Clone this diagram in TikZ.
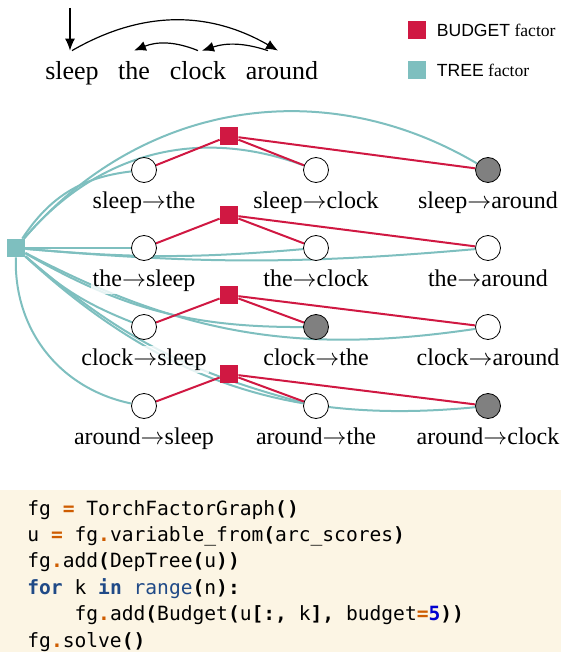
\documentclass[tikz,border=0pt]{standalone}
\usepackage{fontspec}
\setmainfont{Liberation Serif}
\setsansfont{Liberation Sans}
\setmonofont{DejaVu Sans Mono}
\usetikzlibrary{positioning}
\usetikzlibrary{arrows.meta}

\definecolor{budgetred}{RGB}{208,24,66}
\definecolor{treeteal}{RGB}{126,191,191}
\definecolor{codebg}{RGB}{252,245,228}
\definecolor{codeop}{RGB}{206,92,0}
\definecolor{codekw}{RGB}{32,74,135}
\definecolor{codenum}{RGB}{0,0,207}

\newcommand{\cop}[1]{\textcolor{codeop}{\textbf{#1}}}
\newcommand{\ckw}[1]{\textcolor{codekw}{\textbf{#1}}}
\newcommand{\cbi}[1]{\textcolor{codekw}{#1}}
\newcommand{\cnum}[1]{\textcolor{codenum}{\textbf{#1}}}
\newcommand{\cpu}[1]{\textbf{#1}}

\pgfdeclarelayer{background}
\pgfsetlayers{background,main}

\tikzset{
  word/.style={font=\fontsize{13}{15}\selectfont, anchor=base, text height=9pt, inner sep=5.5pt},
  deparc/.style={semithick, -{Latex[length=6pt,width=5pt]}},
  var/.style={circle, draw, thin, fill=white, minimum size=12.5pt, inner sep=0pt},
  chosen/.style={var, fill=gray},
  budget/.style={rectangle, fill=budgetred, minimum size=9pt, inner sep=0pt},
  tree/.style={rectangle, fill=treeteal, minimum size=9pt, inner sep=0pt},
  lbl/.style={font=\fontsize{12}{14}\selectfont, fill=white, fill opacity=0.8, text opacity=1,
    inner sep=1pt, text height=8.5pt, text depth=2.6pt},
  budgetline/.style={budgetred, line width=1pt},
  treeline/.style={treeteal, line width=1pt},
  legtext/.style={font=\fontsize{8.8}{10}\selectfont, inner sep=1pt, anchor=west},
  code/.style={font=\fontsize{9.8}{12}\ttfamily, anchor=base west, inner sep=0pt},
}

\begin{document}
\begin{tikzpicture}[x=0.5pt,y=0.5pt]
\useasboundingbox (0,0) rectangle (561,-652);

% sentence and its tree
\node[word] (w-sleep) at (72,-80) {sleep};
\node[word] (w-the) at (134,-80) {the};
\node[word] (w-clock) at (198,-80) {clock};
\node[word] (w-around) at (282,-80) {around};
\coordinate (root) at (70,-8);
\draw[deparc] (root) -- ([xshift=-1pt]w-sleep.north);
\draw[deparc] (w-sleep.north) to[bend left=30] ([xshift=-2pt]w-around.north);
\draw[deparc] (w-clock.north) to[bend right=22] (w-the.north);
\draw[deparc] ([xshift=-7pt]w-around.north) to[bend right=18] ([xshift=2pt]w-clock.north);

% legend
\node[budget] (leg-budget) at (417,-30) {};
\node[legtext, right=4pt of leg-budget] (leg-budget-t) {\textsf{BUDGET} factor};
\node[tree] (leg-tree) at (417,-70) {};
\node[legtext, right=4pt of leg-tree] (leg-tree-t) {\textsf{TREE} factor};

% factor graph
\node[tree] (tree) at (16,-248) {};
\node[budget] (budget1) at (229,-136) {};
\node[budget] (budget2) at (229,-215) {};
\node[budget] (budget3) at (229,-295) {};
\node[budget] (budget4) at (229,-374) {};

\node[var] (sleep-the) at (144,-170) {};
\node[var] (sleep-clock) at (316,-170) {};
\node[chosen] (sleep-around) at (488,-170) {};
\node[var] (the-sleep) at (144,-248) {};
\node[var] (the-clock) at (316,-248) {};
\node[var] (the-around) at (488,-248) {};
\node[var] (clock-sleep) at (144,-327) {};
\node[chosen] (clock-the) at (316,-327) {};
\node[var] (clock-around) at (488,-327) {};
\node[var] (around-sleep) at (144,-406) {};
\node[var] (around-the) at (316,-406) {};
\node[chosen] (around-clock) at (488,-406) {};

\begin{pgfonlayer}{background}
\draw[treeline] (tree) to[bend left=25] (sleep-the);
\draw[treeline] (tree) to[bend left=35] (sleep-clock);
\draw[treeline] (tree) to[bend left=40] (sleep-around);
\draw[treeline] (tree) to (the-sleep);
\draw[treeline] (tree) to[bend right=5] (the-clock);
\draw[treeline] (tree) to[bend right=5] (the-around);
\draw[treeline] (tree) to[bend right=10] (clock-sleep);
\draw[treeline] (tree) to[bend right=15] (clock-the);
\draw[treeline] (tree) to[bend right=18] (clock-around);
\draw[treeline] (tree) to[bend right=40] (around-sleep);
\draw[treeline] (tree) to[bend right=13] (around-the);
\draw[treeline] (tree) to[bend right=24] (around-clock);

\draw[budgetline] (budget1) -- (sleep-the);
\draw[budgetline] (budget1) -- (sleep-clock);
\draw[budgetline] (budget1) -- (sleep-around);
\draw[budgetline] (budget2) -- (the-sleep);
\draw[budgetline] (budget2) -- (the-clock);
\draw[budgetline] (budget2) -- (the-around);
\draw[budgetline] (budget3) -- (clock-sleep);
\draw[budgetline] (budget3) -- (clock-the);
\draw[budgetline] (budget3) -- (clock-around);
\draw[budgetline] (budget4) -- (around-sleep);
\draw[budgetline] (budget4) -- (around-the);
\draw[budgetline] (budget4) -- (around-clock);

\node[lbl, below=3pt of sleep-the] (sleep-the-l) {sleep$\rightarrow$the};
\node[lbl, below=3pt of sleep-clock] (sleep-clock-l) {sleep$\rightarrow$clock};
\node[lbl, below=3pt of sleep-around] (sleep-around-l) {sleep$\rightarrow$around};
\node[lbl, below=3pt of the-sleep] (the-sleep-l) {the$\rightarrow$sleep};
\node[lbl, below=3pt of the-clock] (the-clock-l) {the$\rightarrow$clock};
\node[lbl, below=3pt of the-around] (the-around-l) {the$\rightarrow$around};
\node[lbl, below=3pt of clock-sleep] (clock-sleep-l) {clock$\rightarrow$sleep};
\node[lbl, below=3pt of clock-the] (clock-the-l) {clock$\rightarrow$the};
\node[lbl, below=3pt of clock-around] (clock-around-l) {clock$\rightarrow$around};
\node[lbl, below=3pt of around-sleep] (around-sleep-l) {around$\rightarrow$sleep};
\node[lbl, below=3pt of around-the] (around-the-l) {around$\rightarrow$the};
\node[lbl, below=3pt of around-clock] (around-clock-l) {around$\rightarrow$clock};
\end{pgfonlayer}

% code
\fill[codebg] (0,-490) rectangle (561,-652);
\node[code] (code1) at (27,-515) {fg \cop{=} TorchFactorGraph\cpu{()}};
\node[code] (code2) at (27,-541.4) {u \cop{=} fg\cop{.}variable\_from\cpu{(}arc\_scores\cpu{)}};
\node[code] (code3) at (27,-567.8) {fg\cop{.}add\cpu{(}DepTree\cpu{(}u\cpu{))}};
\node[code] (code4) at (27,-594.2) {\ckw{for} k \ckw{in} \cbi{range}\cpu{(}n\cpu{):}};
\node[code] (code5) at (27,-620.6) {\phantom{0000}fg\cop{.}add\cpu{(}Budget\cpu{(}u\cpu{[:,} k\cpu{],} budget\cop{=}\cnum{5}\cpu{))}};
\node[code] (code6) at (27,-647) {fg\cop{.}solve\cpu{()}};

\end{tikzpicture}
\end{document}
